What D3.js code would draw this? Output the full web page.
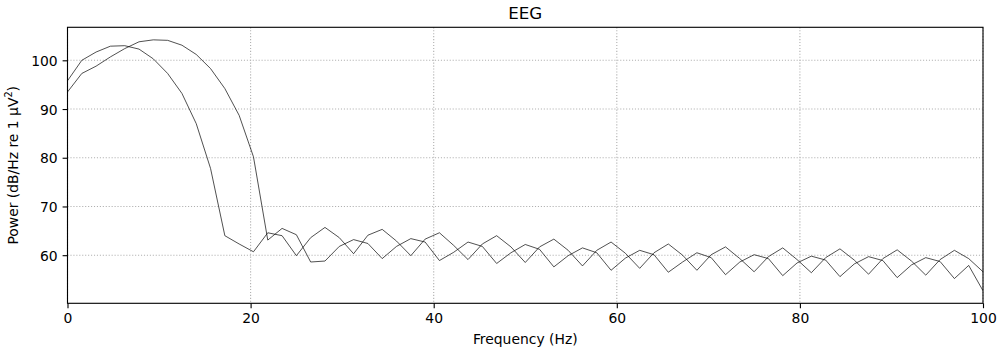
<!DOCTYPE html>
<html>
<head>
<meta charset="utf-8">
<script src="https://cdn.jsdelivr.net/npm/d3@7/dist/d3.min.js"></script>
<style>
  html, body { margin: 0; padding: 0; background: #fff; }
  svg { display: block; }
  text { font-family: "DejaVu Sans", sans-serif; fill: #000; }
</style>
</head>
<body>
<svg id="chart" width="1000" height="350"></svg>
<script>
// Welch PSD estimate, 1.5625 Hz resolution
const freqs = [0, 1.5625, 3.125, 4.6875, 6.25, 7.8125, 9.375, 10.9375, 12.5, 14.0625,
  15.625, 17.1875, 18.75, 20.3125, 21.875, 23.4375, 25, 26.5625, 28.125, 29.6875,
  31.25, 32.8125, 34.375, 35.9375, 37.5, 39.0625, 40.625, 42.1875, 43.75, 45.3125,
  46.875, 48.4375, 50, 51.5625, 53.125, 54.6875, 56.25, 57.8125, 59.375, 60.9375,
  62.5, 64.0625, 65.625, 67.1875, 68.75, 70.3125, 71.875, 73.4375, 75, 76.5625,
  78.125, 79.6875, 81.25, 82.8125, 84.375, 85.9375, 87.5, 89.0625, 90.625, 92.1875,
  93.75, 95.3125, 96.875, 98.4375, 100];

// channel 1 power (dB/Hz re 1 µV²)
const psdCh1 = [93.5, 97.3, 98.8, 100.7, 102.4, 103.8, 104.2, 104.1, 103.1, 101.2,
  98.3, 94.2, 88.7, 80.2, 63.1, 65.5, 64.2, 58.6, 58.8, 61.8,
  63.2, 62.4, 59.3, 61.8, 63.4, 62.7, 58.9, 60.6, 62.7, 61.8,
  58.3, 60.5, 62.2, 61.2, 57.6, 59.9, 61.5, 60.5, 56.9, 59.4,
  61.0, 60.1, 56.5, 58.6, 60.5, 59.5, 56.0, 58.6, 60.1, 59.3,
  55.8, 58.4, 59.8, 59.0, 55.6, 58.2, 59.7, 58.9, 55.4, 58.0,
  59.5, 58.7, 55.2, 57.9, 52.7];

// channel 2 power (dB/Hz re 1 µV²)
const psdCh2 = [95.8, 100.0, 101.7, 102.9, 103.0, 102.3, 100.3, 97.3, 93.2, 87.0,
  77.8, 64.0, 62.3, 60.7, 64.6, 64.0, 59.9, 63.6, 65.7, 63.6,
  60.3, 64.1, 65.3, 62.9, 59.9, 63.3, 64.6, 62.0, 59.1, 62.3,
  64.0, 61.7, 58.5, 61.7, 63.3, 61.0, 57.8, 61.0, 62.7, 60.4,
  57.3, 60.5, 62.3, 60.0, 56.9, 60.1, 61.7, 59.3, 56.6, 59.7,
  61.5, 59.1, 56.4, 59.5, 61.3, 59.0, 56.1, 59.3, 61.1, 58.8,
  55.9, 59.1, 61.0, 59.3, 56.6];

const xTicks = [0, 20, 40, 60, 80, 100];
const yTicks = [60, 70, 80, 90, 100];

const W = 1000, H = 350;
const margin = { top: 27.3, right: 17, bottom: 46.7, left: 67.5 };
const iw = W - margin.left - margin.right;
const ih = H - margin.top - margin.bottom;

const svg = d3.select("#chart");
const g = svg.append("g").attr("transform", `translate(${margin.left},${margin.top})`);

// y limits: data extent with 5% padding on each side
const allVals = psdCh1.concat(psdCh2);
const [lo, hi] = d3.extent(allVals);
const pad = (hi - lo) * 0.05;

const x = d3.scaleLinear().domain([0, 100]).range([0, iw]);
const y = d3.scaleLinear().domain([lo - pad, hi + pad]).range([ih, 0]);

// dotted grid
const grid = g.append("g").attr("class", "grid")
  .attr("stroke", "#b0b0b0").attr("stroke-width", 1.11)
  .attr("stroke-dasharray", "1.11,1.83").attr("fill", "none");
grid.selectAll("line.gx").data(xTicks).join("line").attr("class", "gx")
  .attr("x1", d => x(d)).attr("x2", d => x(d)).attr("y1", 0).attr("y2", ih);
grid.selectAll("line.gy").data(yTicks).join("line").attr("class", "gy")
  .attr("x1", 0).attr("x2", iw).attr("y1", d => y(d)).attr("y2", d => y(d));

// PSD traces
const line = d3.line().x((d, i) => x(freqs[i])).y(d => y(d));
g.append("clipPath").attr("id", "plotclip")
  .append("rect").attr("width", iw).attr("height", ih);
const traces = g.append("g").attr("clip-path", "url(#plotclip)");
[psdCh1, psdCh2].forEach(ch => {
  traces.append("path").datum(ch)
    .attr("d", line).attr("fill", "none")
    .attr("stroke", "#000").attr("stroke-width", 0.69)
    .attr("stroke-linejoin", "round");
});

// axes
const xAxis = d3.axisBottom(x).tickValues(xTicks).tickSize(4.9).tickPadding(4.9).tickFormat(d3.format("d"));
const yAxis = d3.axisLeft(y).tickValues(yTicks).tickSize(4.9).tickPadding(4.9).tickFormat(d3.format("d"));

const gx = g.append("g").attr("transform", `translate(0,${ih})`).call(xAxis);
const gy = g.append("g").call(yAxis);
[gx, gy].forEach(ax => {
  ax.select(".domain").remove();
  ax.selectAll(".tick line").attr("stroke", "#000").attr("stroke-width", 1.11);
  ax.selectAll(".tick text").attr("font-size", 13.9).attr("font-family", "DejaVu Sans").attr("fill", "#000");
});
gx.selectAll(".tick text").attr("dy", null).attr("y", 19.8);
gy.selectAll(".tick text").attr("dy", "0.36em");

// frame
g.append("rect").attr("width", iw).attr("height", ih)
  .attr("fill", "none").attr("stroke", "#000").attr("stroke-width", 1.11);

// labels
svg.append("text").attr("x", margin.left + iw / 2).attr("y", 19)
  .attr("text-anchor", "middle").attr("font-size", 16.7).text("EEG");
svg.append("text").attr("x", margin.left + iw / 2).attr("y", 344)
  .attr("text-anchor", "middle").attr("font-size", 13.9).text("Frequency (Hz)");
const yl = svg.append("text")
  .attr("transform", `translate(17.5,${margin.top + ih / 2}) rotate(-90)`)
  .attr("text-anchor", "middle").attr("font-size", 13.9);
yl.append("tspan").text("Power (dB/Hz re 1 µV");
yl.append("tspan").attr("font-size", 9.7).attr("dy", -5.5).text("2");
yl.append("tspan").attr("dy", 5.5).text(")");
</script>
</body>
</html>
